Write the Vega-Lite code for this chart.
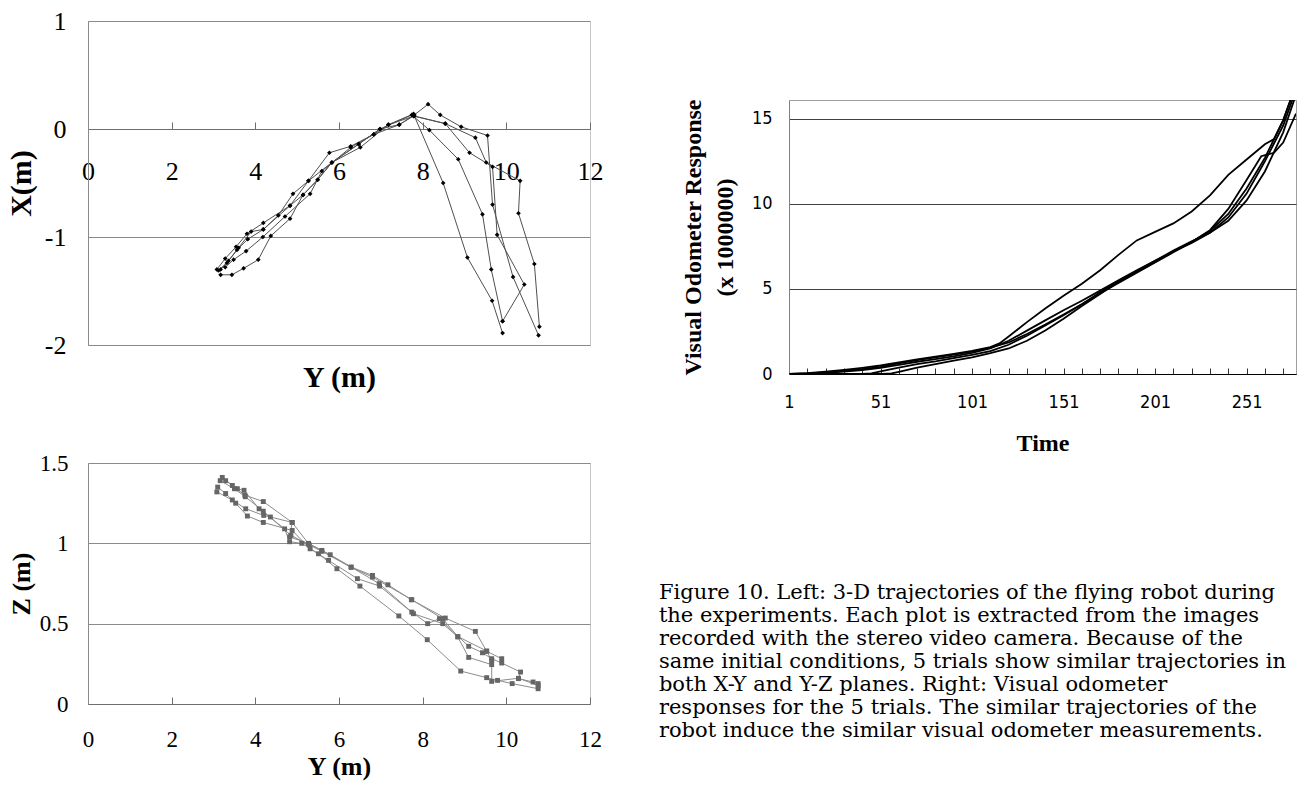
{
  "$schema": "https://vega.github.io/schema/vega-lite/v6.json",
  "background": "white",
  "padding": {"left": 5, "top": 7, "right": 5, "bottom": 2},
  "config": {
    "view": {"stroke": "#c8c8c8"},
    "font": "Liberation Serif",
    "axis": {"labelColor": "#000", "titleColor": "#000", "labelFlush": false, "labelOverlap": false, "titleFont": "Liberation Serif", "labelFont": "Liberation Serif"}
  },
  "datasets": {
    "xy": [
      {"trial": 1, "step": 1, "Y": 3.08, "X": -1.30}, {"trial": 1, "step": 2, "Y": 3.28, "X": -1.20}, {"trial": 1, "step": 3, "Y": 3.54, "X": -1.09}, {"trial": 1, "step": 4, "Y": 3.80, "X": -0.97}, {"trial": 1, "step": 5, "Y": 4.19, "X": -0.87}, {"trial": 1, "step": 6, "Y": 4.83, "X": -0.71}, {"trial": 1, "step": 7, "Y": 5.27, "X": -0.48}, {"trial": 1, "step": 8, "Y": 5.77, "X": -0.22}, {"trial": 1, "step": 9, "Y": 6.28, "X": -0.16}, {"trial": 1, "step": 10, "Y": 6.83, "X": -0.05}, {"trial": 1, "step": 11, "Y": 7.18, "X": 0.04}, {"trial": 1, "step": 12, "Y": 7.78, "X": 0.14}, {"trial": 1, "step": 13, "Y": 8.49, "X": -0.50}, {"trial": 1, "step": 14, "Y": 9.07, "X": -1.19}, {"trial": 1, "step": 15, "Y": 9.66, "X": -1.59}, {"trial": 1, "step": 16, "Y": 9.91, "X": -1.89},
      {"trial": 2, "step": 1, "Y": 3.17, "X": -1.35}, {"trial": 2, "step": 2, "Y": 3.44, "X": -1.35}, {"trial": 2, "step": 3, "Y": 3.72, "X": -1.29}, {"trial": 2, "step": 4, "Y": 4.07, "X": -1.21}, {"trial": 2, "step": 5, "Y": 4.37, "X": -0.99}, {"trial": 2, "step": 6, "Y": 4.83, "X": -0.83}, {"trial": 2, "step": 7, "Y": 5.14, "X": -0.61}, {"trial": 2, "step": 8, "Y": 5.49, "X": -0.47}, {"trial": 2, "step": 9, "Y": 5.83, "X": -0.31}, {"trial": 2, "step": 10, "Y": 6.47, "X": -0.14}, {"trial": 2, "step": 11, "Y": 6.98, "X": 0.00}, {"trial": 2, "step": 12, "Y": 7.74, "X": 0.13}, {"trial": 2, "step": 13, "Y": 8.16, "X": -0.01}, {"trial": 2, "step": 14, "Y": 8.85, "X": -0.28}, {"trial": 2, "step": 15, "Y": 9.43, "X": -0.79}, {"trial": 2, "step": 16, "Y": 9.64, "X": -1.30}, {"trial": 2, "step": 17, "Y": 9.91, "X": -1.78},
      {"trial": 3, "step": 1, "Y": 3.28, "X": -1.28}, {"trial": 3, "step": 2, "Y": 3.48, "X": -1.21}, {"trial": 3, "step": 3, "Y": 3.78, "X": -1.13}, {"trial": 3, "step": 4, "Y": 4.18, "X": -1.00}, {"trial": 3, "step": 5, "Y": 4.71, "X": -0.81}, {"trial": 3, "step": 6, "Y": 5.31, "X": -0.60}, {"trial": 3, "step": 7, "Y": 5.59, "X": -0.39}, {"trial": 3, "step": 8, "Y": 6.28, "X": -0.17}, {"trial": 3, "step": 9, "Y": 6.83, "X": -0.05}, {"trial": 3, "step": 10, "Y": 7.44, "X": 0.04}, {"trial": 3, "step": 11, "Y": 7.80, "X": 0.13}, {"trial": 3, "step": 12, "Y": 8.13, "X": 0.23}, {"trial": 3, "step": 13, "Y": 8.42, "X": 0.13}, {"trial": 3, "step": 14, "Y": 8.92, "X": 0.02}, {"trial": 3, "step": 15, "Y": 9.55, "X": -0.06}, {"trial": 3, "step": 16, "Y": 9.67, "X": -0.70}, {"trial": 3, "step": 17, "Y": 10.16, "X": -1.37}, {"trial": 3, "step": 18, "Y": 10.77, "X": -1.91},
      {"trial": 4, "step": 1, "Y": 3.17, "X": -1.30}, {"trial": 4, "step": 2, "Y": 3.36, "X": -1.22}, {"trial": 4, "step": 3, "Y": 3.60, "X": -1.10}, {"trial": 4, "step": 4, "Y": 3.90, "X": -0.95}, {"trial": 4, "step": 5, "Y": 4.19, "X": -0.93}, {"trial": 4, "step": 6, "Y": 4.55, "X": -0.80}, {"trial": 4, "step": 7, "Y": 4.90, "X": -0.60}, {"trial": 4, "step": 8, "Y": 5.27, "X": -0.48}, {"trial": 4, "step": 9, "Y": 5.83, "X": -0.31}, {"trial": 4, "step": 10, "Y": 6.51, "X": -0.17}, {"trial": 4, "step": 11, "Y": 7.18, "X": 0.04}, {"trial": 4, "step": 12, "Y": 7.80, "X": 0.12}, {"trial": 4, "step": 13, "Y": 8.54, "X": 0.05}, {"trial": 4, "step": 14, "Y": 9.26, "X": -0.08}, {"trial": 4, "step": 15, "Y": 9.52, "X": -0.31}, {"trial": 4, "step": 16, "Y": 10.33, "X": -0.48}, {"trial": 4, "step": 17, "Y": 10.29, "X": -0.78}, {"trial": 4, "step": 18, "Y": 10.67, "X": -1.25}, {"trial": 4, "step": 19, "Y": 10.79, "X": -1.83},
      {"trial": 5, "step": 1, "Y": 3.12, "X": -1.31}, {"trial": 5, "step": 2, "Y": 3.32, "X": -1.24}, {"trial": 5, "step": 3, "Y": 3.56, "X": -1.12}, {"trial": 5, "step": 4, "Y": 3.82, "X": -1.02}, {"trial": 5, "step": 5, "Y": 4.19, "X": -0.93}, {"trial": 5, "step": 6, "Y": 4.83, "X": -0.71}, {"trial": 5, "step": 7, "Y": 5.14, "X": -0.61}, {"trial": 5, "step": 8, "Y": 5.49, "X": -0.47}, {"trial": 5, "step": 9, "Y": 5.83, "X": -0.31}, {"trial": 5, "step": 10, "Y": 6.47, "X": -0.14}, {"trial": 5, "step": 11, "Y": 6.98, "X": 0.00}, {"trial": 5, "step": 12, "Y": 7.44, "X": 0.04}, {"trial": 5, "step": 13, "Y": 7.78, "X": 0.12}, {"trial": 5, "step": 14, "Y": 8.54, "X": 0.05}, {"trial": 5, "step": 15, "Y": 9.12, "X": -0.22}, {"trial": 5, "step": 16, "Y": 9.67, "X": -0.35}, {"trial": 5, "step": 17, "Y": 9.78, "X": -0.98}, {"trial": 5, "step": 18, "Y": 10.43, "X": -1.44}, {"trial": 5, "step": 19, "Y": 9.91, "X": -1.78}
    ],
    "yz": [
      {"trial": 1, "step": 1, "Y": 3.21, "Z": 1.41}, {"trial": 1, "step": 2, "Y": 3.45, "Z": 1.36}, {"trial": 1, "step": 3, "Y": 3.75, "Z": 1.30}, {"trial": 1, "step": 4, "Y": 4.19, "Z": 1.26}, {"trial": 1, "step": 5, "Y": 4.88, "Z": 1.13}, {"trial": 1, "step": 6, "Y": 4.82, "Z": 1.04}, {"trial": 1, "step": 7, "Y": 5.27, "Z": 1.00}, {"trial": 1, "step": 8, "Y": 5.59, "Z": 0.956}, {"trial": 1, "step": 9, "Y": 6.29, "Z": 0.853}, {"trial": 1, "step": 10, "Y": 6.80, "Z": 0.80}, {"trial": 1, "step": 11, "Y": 7.17, "Z": 0.742}, {"trial": 1, "step": 12, "Y": 7.73, "Z": 0.649}, {"trial": 1, "step": 13, "Y": 8.54, "Z": 0.535}, {"trial": 1, "step": 14, "Y": 9.26, "Z": 0.452}, {"trial": 1, "step": 15, "Y": 9.53, "Z": 0.328}, {"trial": 1, "step": 16, "Y": 9.89, "Z": 0.282},
      {"trial": 2, "step": 1, "Y": 3.29, "Z": 1.39}, {"trial": 2, "step": 2, "Y": 3.57, "Z": 1.34}, {"trial": 2, "step": 3, "Y": 3.73, "Z": 1.33}, {"trial": 2, "step": 4, "Y": 4.09, "Z": 1.215}, {"trial": 2, "step": 5, "Y": 4.70, "Z": 1.09}, {"trial": 2, "step": 6, "Y": 4.82, "Z": 1.01}, {"trial": 2, "step": 7, "Y": 5.11, "Z": 1.00}, {"trial": 2, "step": 8, "Y": 5.51, "Z": 0.935}, {"trial": 2, "step": 9, "Y": 5.95, "Z": 0.842}, {"trial": 2, "step": 10, "Y": 6.50, "Z": 0.734}, {"trial": 2, "step": 11, "Y": 7.43, "Z": 0.548}, {"trial": 2, "step": 12, "Y": 8.11, "Z": 0.40}, {"trial": 2, "step": 13, "Y": 8.91, "Z": 0.205}, {"trial": 2, "step": 14, "Y": 9.53, "Z": 0.164}, {"trial": 2, "step": 15, "Y": 9.79, "Z": 0.147}, {"trial": 2, "step": 16, "Y": 10.14, "Z": 0.127}, {"trial": 2, "step": 17, "Y": 10.76, "Z": 0.095},
      {"trial": 3, "step": 1, "Y": 3.10, "Z": 1.35}, {"trial": 3, "step": 2, "Y": 3.29, "Z": 1.31}, {"trial": 3, "step": 3, "Y": 3.53, "Z": 1.25}, {"trial": 3, "step": 4, "Y": 3.81, "Z": 1.17}, {"trial": 3, "step": 5, "Y": 4.19, "Z": 1.13}, {"trial": 3, "step": 6, "Y": 4.88, "Z": 1.08}, {"trial": 3, "step": 7, "Y": 5.31, "Z": 0.966}, {"trial": 3, "step": 8, "Y": 5.75, "Z": 0.894}, {"trial": 3, "step": 9, "Y": 6.44, "Z": 0.78}, {"trial": 3, "step": 10, "Y": 6.97, "Z": 0.734}, {"trial": 3, "step": 11, "Y": 7.78, "Z": 0.562}, {"trial": 3, "step": 12, "Y": 8.48, "Z": 0.50}, {"trial": 3, "step": 13, "Y": 8.84, "Z": 0.417}, {"trial": 3, "step": 14, "Y": 9.10, "Z": 0.29}, {"trial": 3, "step": 15, "Y": 9.65, "Z": 0.245},
      {"trial": 4, "step": 1, "Y": 3.08, "Z": 1.32}, {"trial": 4, "step": 2, "Y": 3.45, "Z": 1.27}, {"trial": 4, "step": 3, "Y": 3.77, "Z": 1.215}, {"trial": 4, "step": 4, "Y": 4.20, "Z": 1.174}, {"trial": 4, "step": 5, "Y": 4.36, "Z": 1.164}, {"trial": 4, "step": 6, "Y": 4.88, "Z": 1.13}, {"trial": 4, "step": 7, "Y": 5.27, "Z": 0.998}, {"trial": 4, "step": 8, "Y": 5.79, "Z": 0.929}, {"trial": 4, "step": 9, "Y": 6.96, "Z": 0.749}, {"trial": 4, "step": 10, "Y": 7.74, "Z": 0.572}, {"trial": 4, "step": 11, "Y": 8.12, "Z": 0.50}, {"trial": 4, "step": 12, "Y": 8.40, "Z": 0.531}, {"trial": 4, "step": 13, "Y": 9.10, "Z": 0.359}, {"trial": 4, "step": 14, "Y": 9.43, "Z": 0.319}, {"trial": 4, "step": 15, "Y": 9.65, "Z": 0.282}, {"trial": 4, "step": 16, "Y": 9.89, "Z": 0.255}, {"trial": 4, "step": 17, "Y": 10.34, "Z": 0.199}, {"trial": 4, "step": 18, "Y": 10.29, "Z": 0.158}, {"trial": 4, "step": 19, "Y": 10.64, "Z": 0.137}, {"trial": 4, "step": 20, "Y": 10.76, "Z": 0.127},
      {"trial": 5, "step": 1, "Y": 3.16, "Z": 1.39}, {"trial": 5, "step": 2, "Y": 3.50, "Z": 1.34}, {"trial": 5, "step": 3, "Y": 3.76, "Z": 1.29}, {"trial": 5, "step": 4, "Y": 4.19, "Z": 1.20}, {"trial": 5, "step": 5, "Y": 4.85, "Z": 1.05}, {"trial": 5, "step": 6, "Y": 5.29, "Z": 0.99}, {"trial": 5, "step": 7, "Y": 5.59, "Z": 0.95}, {"trial": 5, "step": 8, "Y": 6.29, "Z": 0.85}, {"trial": 5, "step": 9, "Y": 6.80, "Z": 0.79}, {"trial": 5, "step": 10, "Y": 7.74, "Z": 0.649}, {"trial": 5, "step": 11, "Y": 8.48, "Z": 0.53}, {"trial": 5, "step": 12, "Y": 8.84, "Z": 0.42}, {"trial": 5, "step": 13, "Y": 9.53, "Z": 0.33}, {"trial": 5, "step": 14, "Y": 9.65, "Z": 0.27}, {"trial": 5, "step": 15, "Y": 9.65, "Z": 0.141}, {"trial": 5, "step": 16, "Y": 10.29, "Z": 0.16}, {"trial": 5, "step": 17, "Y": 10.76, "Z": 0.115}
    ],
    "odo": [
      {"trial": "U", "time": 1, "resp": 0}, {"trial": "U", "time": 11, "resp": 0.05}, {"trial": "U", "time": 21, "resp": 0.14}, {"trial": "U", "time": 31, "resp": 0.24}, {"trial": "U", "time": 41, "resp": 0.36}, {"trial": "U", "time": 51, "resp": 0.5}, {"trial": "U", "time": 61, "resp": 0.68}, {"trial": "U", "time": 71, "resp": 0.86}, {"trial": "U", "time": 81, "resp": 1.02}, {"trial": "U", "time": 91, "resp": 1.18}, {"trial": "U", "time": 101, "resp": 1.36}, {"trial": "U", "time": 111, "resp": 1.58}, {"trial": "U", "time": 116, "resp": 1.8}, {"trial": "U", "time": 121, "resp": 2.2}, {"trial": "U", "time": 131, "resp": 3.05}, {"trial": "U", "time": 141, "resp": 3.85}, {"trial": "U", "time": 151, "resp": 4.6}, {"trial": "U", "time": 161, "resp": 5.3}, {"trial": "U", "time": 171, "resp": 6.1}, {"trial": "U", "time": 181, "resp": 7.0}, {"trial": "U", "time": 191, "resp": 7.85}, {"trial": "U", "time": 201, "resp": 8.35}, {"trial": "U", "time": 211, "resp": 8.85}, {"trial": "U", "time": 221, "resp": 9.55}, {"trial": "U", "time": 231, "resp": 10.5}, {"trial": "U", "time": 241, "resp": 11.7}, {"trial": "U", "time": 251, "resp": 12.6}, {"trial": "U", "time": 261, "resp": 13.5}, {"trial": "U", "time": 266, "resp": 13.8}, {"trial": "U", "time": 271, "resp": 14.9}, {"trial": "U", "time": 275, "resp": 16.1},
      {"trial": "L1", "time": 1, "resp": 0}, {"trial": "L1", "time": 11, "resp": 0.04}, {"trial": "L1", "time": 21, "resp": 0.1}, {"trial": "L1", "time": 31, "resp": 0.18}, {"trial": "L1", "time": 41, "resp": 0.28}, {"trial": "L1", "time": 51, "resp": 0.42}, {"trial": "L1", "time": 61, "resp": 0.62}, {"trial": "L1", "time": 71, "resp": 0.82}, {"trial": "L1", "time": 81, "resp": 0.98}, {"trial": "L1", "time": 91, "resp": 1.14}, {"trial": "L1", "time": 101, "resp": 1.32}, {"trial": "L1", "time": 111, "resp": 1.55}, {"trial": "L1", "time": 121, "resp": 1.85}, {"trial": "L1", "time": 131, "resp": 2.35}, {"trial": "L1", "time": 141, "resp": 2.9}, {"trial": "L1", "time": 151, "resp": 3.5}, {"trial": "L1", "time": 161, "resp": 4.1}, {"trial": "L1", "time": 171, "resp": 4.75}, {"trial": "L1", "time": 181, "resp": 5.35}, {"trial": "L1", "time": 191, "resp": 5.95}, {"trial": "L1", "time": 201, "resp": 6.55}, {"trial": "L1", "time": 211, "resp": 7.15}, {"trial": "L1", "time": 221, "resp": 7.75}, {"trial": "L1", "time": 231, "resp": 8.45}, {"trial": "L1", "time": 241, "resp": 9.7}, {"trial": "L1", "time": 251, "resp": 11.4}, {"trial": "L1", "time": 259, "resp": 12.8}, {"trial": "L1", "time": 266, "resp": 13.0}, {"trial": "L1", "time": 271, "resp": 13.6}, {"trial": "L1", "time": 278, "resp": 15.3},
      {"trial": "L2", "time": 1, "resp": 0}, {"trial": "L2", "time": 11, "resp": 0.02}, {"trial": "L2", "time": 21, "resp": 0.07}, {"trial": "L2", "time": 31, "resp": 0.14}, {"trial": "L2", "time": 41, "resp": 0.23}, {"trial": "L2", "time": 51, "resp": 0.36}, {"trial": "L2", "time": 61, "resp": 0.53}, {"trial": "L2", "time": 71, "resp": 0.72}, {"trial": "L2", "time": 81, "resp": 0.88}, {"trial": "L2", "time": 91, "resp": 1.04}, {"trial": "L2", "time": 101, "resp": 1.24}, {"trial": "L2", "time": 111, "resp": 1.5}, {"trial": "L2", "time": 121, "resp": 1.95}, {"trial": "L2", "time": 131, "resp": 2.55}, {"trial": "L2", "time": 141, "resp": 3.15}, {"trial": "L2", "time": 151, "resp": 3.75}, {"trial": "L2", "time": 161, "resp": 4.3}, {"trial": "L2", "time": 171, "resp": 4.9}, {"trial": "L2", "time": 181, "resp": 5.5}, {"trial": "L2", "time": 191, "resp": 6.1}, {"trial": "L2", "time": 201, "resp": 6.65}, {"trial": "L2", "time": 211, "resp": 7.2}, {"trial": "L2", "time": 221, "resp": 7.7}, {"trial": "L2", "time": 231, "resp": 8.3}, {"trial": "L2", "time": 241, "resp": 9.2}, {"trial": "L2", "time": 251, "resp": 10.6}, {"trial": "L2", "time": 261, "resp": 12.5}, {"trial": "L2", "time": 271, "resp": 14.6}, {"trial": "L2", "time": 276, "resp": 16.1},
      {"trial": "L3", "time": 1, "resp": 0}, {"trial": "L3", "time": 41, "resp": 0}, {"trial": "L3", "time": 46, "resp": 0.03}, {"trial": "L3", "time": 51, "resp": 0.15}, {"trial": "L3", "time": 61, "resp": 0.38}, {"trial": "L3", "time": 71, "resp": 0.58}, {"trial": "L3", "time": 81, "resp": 0.74}, {"trial": "L3", "time": 91, "resp": 0.93}, {"trial": "L3", "time": 101, "resp": 1.13}, {"trial": "L3", "time": 111, "resp": 1.35}, {"trial": "L3", "time": 121, "resp": 1.72}, {"trial": "L3", "time": 131, "resp": 2.25}, {"trial": "L3", "time": 141, "resp": 2.85}, {"trial": "L3", "time": 151, "resp": 3.45}, {"trial": "L3", "time": 161, "resp": 4.1}, {"trial": "L3", "time": 171, "resp": 4.8}, {"trial": "L3", "time": 181, "resp": 5.45}, {"trial": "L3", "time": 191, "resp": 6.05}, {"trial": "L3", "time": 201, "resp": 6.65}, {"trial": "L3", "time": 211, "resp": 7.25}, {"trial": "L3", "time": 221, "resp": 7.8}, {"trial": "L3", "time": 231, "resp": 8.3}, {"trial": "L3", "time": 241, "resp": 9.0}, {"trial": "L3", "time": 251, "resp": 10.2}, {"trial": "L3", "time": 261, "resp": 11.9}, {"trial": "L3", "time": 271, "resp": 14.2}, {"trial": "L3", "time": 277, "resp": 16.1},
      {"trial": "L4", "time": 1, "resp": 0}, {"trial": "L4", "time": 52, "resp": 0}, {"trial": "L4", "time": 57, "resp": 0.03}, {"trial": "L4", "time": 61, "resp": 0.13}, {"trial": "L4", "time": 71, "resp": 0.38}, {"trial": "L4", "time": 81, "resp": 0.58}, {"trial": "L4", "time": 91, "resp": 0.78}, {"trial": "L4", "time": 101, "resp": 0.98}, {"trial": "L4", "time": 111, "resp": 1.22}, {"trial": "L4", "time": 121, "resp": 1.5}, {"trial": "L4", "time": 131, "resp": 1.95}, {"trial": "L4", "time": 141, "resp": 2.55}, {"trial": "L4", "time": 151, "resp": 3.25}, {"trial": "L4", "time": 161, "resp": 4.0}, {"trial": "L4", "time": 171, "resp": 4.7}, {"trial": "L4", "time": 181, "resp": 5.4}, {"trial": "L4", "time": 191, "resp": 6.0}, {"trial": "L4", "time": 201, "resp": 6.6}, {"trial": "L4", "time": 211, "resp": 7.2}, {"trial": "L4", "time": 221, "resp": 7.75}, {"trial": "L4", "time": 231, "resp": 8.4}, {"trial": "L4", "time": 241, "resp": 9.4}, {"trial": "L4", "time": 251, "resp": 10.9}, {"trial": "L4", "time": 261, "resp": 12.7}, {"trial": "L4", "time": 271, "resp": 14.9}, {"trial": "L4", "time": 275, "resp": 16.1}
    ],
    "none": []
  },
  "spacing": 54,
  "hconcat": [
    {
      "spacing": 58,
      "vconcat": [
        {
          "width": 502,
          "height": 324,
          "data": {"name": "xy"},
          "encoding": {
            "x": {"field": "Y", "type": "quantitative", "scale": {"domain": [0, 12], "nice": false},
              "axis": {"values": [0, 2, 4, 6, 8, 10, 12], "offset": -216, "grid": false, "domainColor": "#6e6e6e", "tickColor": "#6e6e6e", "tickSize": -7, "labelFontSize": 26, "labelPadding": 49, "labelBaseline": "middle", "title": "Y (m)", "titleFontSize": 30, "titleFontWeight": "bold", "titleY": 248, "titleBaseline": "middle"}},
            "y": {"field": "X", "type": "quantitative", "scale": {"domain": [-2, 1], "nice": false},
              "axis": {"values": [-2, -1, 0, 1], "labelExpr": "datum.value + ''", "grid": true, "gridColor": "#8a8a8a", "domainColor": "#8a8a8a", "ticks": false, "labelFontSize": 26, "labelPadding": 22, "title": "X(m)", "titleFontSize": 30, "titleFontWeight": "bold", "titlePadding": 8}}
          },
          "layer": [
            {"mark": {"type": "line", "color": "#505050", "strokeWidth": 1}, "encoding": {"detail": {"field": "trial"}, "order": {"field": "step"}}},
            {"mark": {"type": "point", "shape": "diamond", "filled": true, "color": "#000", "size": 22, "opacity": 1}}
          ]
        },
        {
          "width": 502,
          "height": 241,
          "data": {"name": "yz"},
          "encoding": {
            "x": {"field": "Y", "type": "quantitative", "scale": {"domain": [0, 12], "nice": false},
              "axis": {"values": [0, 2, 4, 6, 8, 10, 12], "grid": false, "domainColor": "#6e6e6e", "tickColor": "#6e6e6e", "tickSize": -7, "labelFontSize": 23, "labelPadding": 42, "labelBaseline": "middle", "title": "Y (m)", "titleFontSize": 26, "titleFontWeight": "bold", "titlePadding": 2}},
            "y": {"field": "Z", "type": "quantitative", "scale": {"domain": [0, 1.5], "nice": false},
              "axis": {"values": [0, 0.5, 1, 1.5], "format": "~g", "grid": true, "gridColor": "#8a8a8a", "domainColor": "#8a8a8a", "ticks": false, "labelFontSize": 23, "labelPadding": 20, "title": "Z (m)", "titleFontSize": 26, "titleFontWeight": "bold", "titlePadding": 5}}
          },
          "layer": [
            {"mark": {"type": "line", "color": "#8c8c8c", "strokeWidth": 1}, "encoding": {"detail": {"field": "trial"}, "order": {"field": "step"}}},
            {"mark": {"type": "square", "filled": true, "color": "#666666", "size": 24, "opacity": 1}}
          ]
        }
      ]
    },
    {
      "spacing": 0,
      "title": {
        "text": [
          "Figure 10. Left: 3-D trajectories of the flying robot during",
          "the experiments. Each plot is extracted from the images",
          "recorded with the stereo video camera. Because of the",
          "same initial conditions, 5 trials show similar trajectories in",
          "both X-Y and Y-Z planes. Right: Visual odometer",
          "responses for the 5 trials. The similar trajectories of the",
          "robot induce the similar visual odometer measurements."
        ],
        "orient": "bottom",
        "anchor": "start",
        "frame": "bounds",
        "font": "DejaVu Serif",
        "fontSize": 21,
        "fontWeight": "normal",
        "lineHeight": 23,
        "color": "#000",
        "offset": 126,
        "dx": -22
      },
      "vconcat": [
        {
          "width": 507,
          "height": 77,
          "view": {"stroke": null},
          "data": {"name": "none"},
          "mark": "point"
        },
        {
          "width": 507,
          "height": 274,
          "view": {"stroke": "#a0a0a0"},
          "data": {"name": "odo"},
          "mark": {"type": "line", "color": "#000", "strokeWidth": 1.8, "clip": true},
          "encoding": {
            "x": {"field": "time", "type": "quantitative", "scale": {"domain": [1, 278], "nice": false, "zero": false},
              "axis": {"values": [1, 11, 21, 31, 41, 51, 61, 71, 81, 91, 101, 111, 121, 131, 141, 151, 161, 171, 181, 191, 201, 211, 221, 231, 241, 251, 261, 271], "labelExpr": "(datum.value - 1) % 50 == 0 ? datum.label : ''", "grid": false, "domainColor": "#000", "tickColor": "#333", "tickSize": -6, "labelFont": "Liberation Sans Narrow, DejaVu Sans Condensed, Liberation Sans", "labelFontSize": 18, "labelPadding": 34, "labelBaseline": "middle", "title": "Time", "titleFont": "Liberation Serif", "titleFontSize": 24, "titleFontWeight": "bold", "titlePadding": 20}},
            "y": {"field": "resp", "type": "quantitative", "scale": {"domain": [0, 16.1], "nice": false},
              "axis": {"values": [0, 5, 10, 15], "grid": true, "gridColor": "#404040", "domainColor": "#808080", "ticks": false, "labelFont": "Liberation Sans Narrow, DejaVu Sans Condensed, Liberation Sans", "labelFontSize": 18, "labelPadding": 17, "title": ["Visual Odometer Response", "(x 1000000)"], "titleFont": "Liberation Serif", "titleFontSize": 24, "titleFontWeight": "bold", "titleLineHeight": 32, "titlePadding": 14}},
            "detail": {"field": "trial"},
            "order": {"field": "time"}
          }
        }
      ]
    }
  ]
}
